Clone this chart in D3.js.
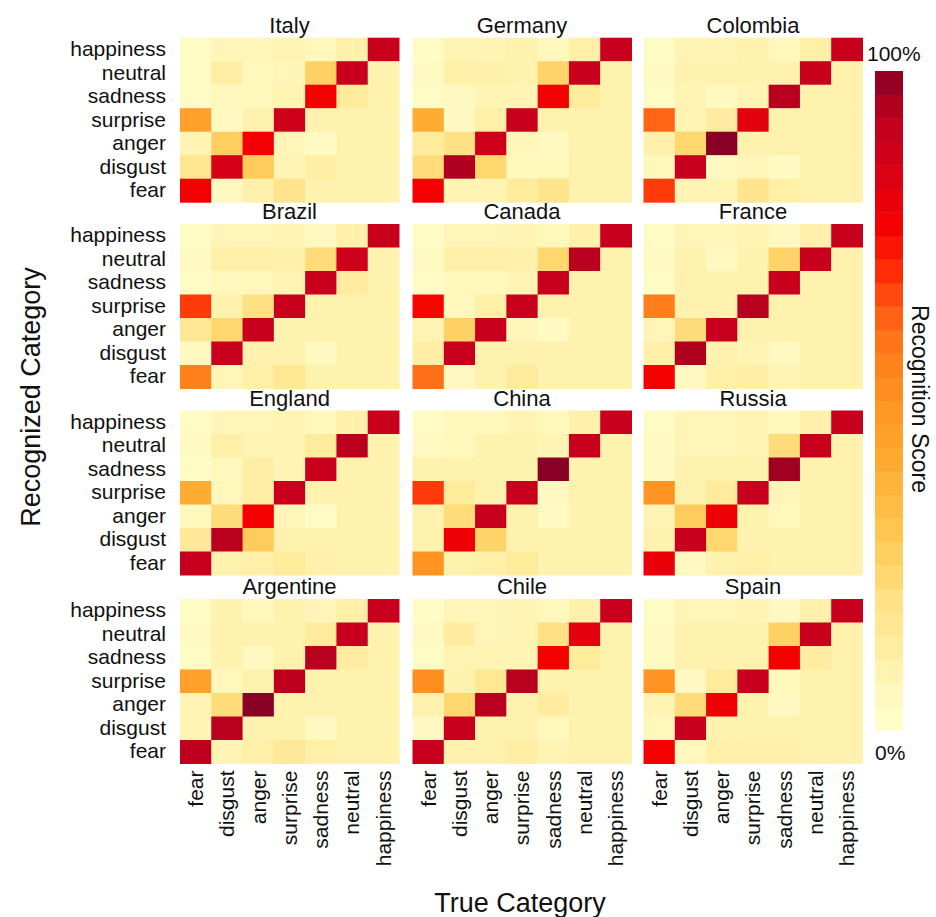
<!DOCTYPE html>
<html>
<head>
<meta charset="utf-8">
<script src="https://cdn.jsdelivr.net/npm/d3@7"></script>
<style>
  html, body { margin: 0; padding: 0; background: #fff; }
  svg { display: block; font-family: "Liberation Sans", Arial, Helvetica, sans-serif; }
</style>
</head>
<body>
<svg id="chart" width="936" height="917"></svg>
<script>
// Emotion categories (true category on x, recognized category on y)
const categories = ["fear", "disgust", "anger", "surprise", "sadness", "neutral", "happiness"];
const countries = ["Italy", "Germany", "Colombia", "Brazil", "Canada", "France",
                   "England", "China", "Russia", "Argentine", "Chile", "Spain"];

// Recognition score (%) per country. Rows: recognized category, listed top to bottom
// (happiness, neutral, sadness, surprise, anger, disgust, fear).
// Columns: true category (fear, disgust, anger, surprise, sadness, neutral, happiness).
const italy = [
  [3, 7, 7, 8, 6, 10, 90],
  [3, 12, 6, 7, 26, 90, 9],
  [3, 6, 6, 8, 76, 14, 9],
  [45, 5, 9, 88, 9, 9, 9],
  [8, 27, 77, 7, 4, 9, 9],
  [17, 86, 28, 8, 12, 9, 9],
  [76, 5, 10, 18, 9, 9, 9]
];
const germany = [
  [3, 8, 8, 9, 6, 11, 90],
  [4, 11, 10, 9, 25, 90, 9],
  [3, 5, 8, 8, 77, 14, 9],
  [40, 5, 11, 90, 9, 9, 9],
  [14, 20, 88, 7, 5, 9, 9],
  [22, 95, 24, 6, 6, 9, 9],
  [76, 8, 8, 14, 18, 9, 9]
];
const colombia = [
  [3, 8, 8, 9, 6, 11, 90],
  [4, 9, 9, 9, 9, 90, 9],
  [3, 8, 5, 8, 93, 9, 9],
  [62, 8, 13, 82, 9, 9, 9],
  [10, 24, 100, 9, 9, 9, 9],
  [6, 90, 5, 7, 4, 9, 9],
  [68, 8, 8, 18, 11, 9, 9]
];
const brazil = [
  [3, 7, 7, 8, 5, 10, 90],
  [4, 11, 11, 10, 22, 88, 9],
  [3, 6, 6, 8, 90, 13, 9],
  [68, 9, 20, 90, 9, 9, 9],
  [16, 24, 90, 9, 9, 9, 9],
  [5, 90, 9, 9, 5, 9, 9],
  [56, 7, 11, 16, 9, 9, 9]
];
const canada = [
  [3, 7, 7, 8, 6, 10, 90],
  [4, 11, 11, 10, 24, 93, 9],
  [3, 6, 6, 8, 90, 9, 9],
  [75, 6, 11, 90, 9, 9, 9],
  [8, 26, 90, 7, 4, 9, 9],
  [12, 90, 9, 9, 9, 9, 9],
  [60, 5, 9, 14, 9, 9, 9]
];
const france = [
  [3, 7, 7, 8, 5, 10, 90],
  [4, 9, 5, 9, 25, 90, 9],
  [3, 9, 9, 9, 90, 9, 9],
  [57, 9, 9, 93, 9, 9, 9],
  [7, 22, 90, 9, 9, 9, 9],
  [11, 95, 9, 8, 5, 9, 9],
  [76, 5, 11, 12, 8, 9, 9]
];
const england = [
  [3, 7, 7, 8, 6, 10, 90],
  [4, 11, 8, 8, 14, 93, 9],
  [3, 6, 12, 8, 90, 9, 9],
  [40, 6, 12, 90, 9, 9, 9],
  [6, 22, 76, 7, 3, 9, 9],
  [15, 93, 28, 9, 9, 9, 9],
  [90, 9, 11, 14, 10, 9, 9]
];
const china = [
  [3, 6, 6, 8, 6, 10, 90],
  [4, 6, 9, 9, 8, 90, 9],
  [9, 9, 9, 9, 100, 9, 9],
  [68, 14, 9, 90, 5, 9, 9],
  [9, 22, 90, 9, 4, 9, 9],
  [9, 78, 25, 9, 9, 9, 9],
  [50, 9, 11, 14, 9, 9, 9]
];
const russia = [
  [3, 7, 7, 8, 6, 10, 90],
  [4, 7, 7, 8, 22, 90, 9],
  [4, 9, 9, 9, 97, 9, 9],
  [50, 9, 14, 90, 7, 9, 9],
  [8, 28, 78, 9, 6, 9, 9],
  [9, 90, 24, 9, 9, 9, 9],
  [80, 5, 9, 11, 9, 9, 9]
];
const argentine = [
  [3, 9, 6, 9, 7, 11, 90],
  [4, 9, 9, 9, 14, 90, 9],
  [3, 9, 5, 9, 93, 13, 9],
  [45, 6, 9, 92, 9, 9, 9],
  [8, 22, 100, 9, 9, 9, 9],
  [8, 93, 9, 9, 5, 9, 9],
  [92, 8, 11, 15, 11, 9, 9]
];
const chile = [
  [3, 7, 7, 8, 6, 10, 90],
  [4, 13, 7, 8, 20, 82, 9],
  [3, 8, 8, 8, 76, 14, 9],
  [52, 9, 16, 93, 9, 9, 9],
  [9, 24, 93, 9, 13, 9, 9],
  [5, 90, 9, 9, 6, 9, 9],
  [90, 9, 9, 12, 8, 9, 9]
];
const spain = [
  [3, 7, 7, 8, 5, 10, 90],
  [4, 9, 9, 9, 26, 90, 9],
  [4, 9, 9, 9, 76, 13, 9],
  [50, 5, 14, 90, 6, 9, 9],
  [8, 22, 78, 9, 5, 9, 9],
  [6, 90, 9, 9, 9, 9, 9],
  [76, 6, 11, 11, 11, 9, 9]
];
const scores = [italy, germany, colombia, brazil, canada, france,
                england, china, russia, argentine, chile, spain];

// Colour bar labels
const legendLabels = ["0%", "100%"];
const legendSteps = 28;

// Recognition score -> colour (yellow through orange to dark red)
const colorStops = [0, 5, 10, 15, 20, 25, 30, 40, 50, 58, 64, 70, 76, 82, 90, 95, 100];
const colorRange = ["#ffffcc", "#fff8c0", "#fff1ab", "#ffe998", "#fee184", "#fed46a",
                    "#fec652", "#feac32", "#ff9422", "#ff7a1a", "#ff5a12", "#ff2a06",
                    "#f50000", "#e3000f", "#c8001e", "#b0001f", "#880025"];
const color = d3.scaleLinear().domain(colorStops).range(colorRange).clamp(true);

const svg = d3.select("#chart");

// Grid of small multiples
const colX = [180, 412.5, 643.5];
const rowY = [37.7, 224, 410.5, 599];
const panelW = 219, panelH = 164.5;
const fontTick = 21;

// recognized categories listed top to bottom
const rowOrder = categories.slice().reverse();

countries.forEach((name, i) => {
  const c = i % 3, r = Math.floor(i / 3);
  const x0 = colX[c], y0 = rowY[r];
  const x = d3.scaleBand().domain(categories).range([x0, x0 + panelW]);
  const y = d3.scaleBand().domain(rowOrder).range([y0, y0 + panelH]);
  const g = svg.append("g").attr("class", "panel");

  const cells = [];
  scores[i].forEach((row, ri) => {
    row.forEach((v, ci) => {
      cells.push({ rec: rowOrder[ri], tru: categories[ci], v });
    });
  });

  g.selectAll("rect")
    .data(cells)
    .join("rect")
    .attr("x", d => x(d.tru))
    .attr("y", d => y(d.rec))
    .attr("width", x.bandwidth() + 0.5)
    .attr("height", y.bandwidth() + 0.5)
    .attr("fill", d => color(d.v));

  g.append("text")
    .attr("x", x0 + panelW / 2)
    .attr("y", y0 - 5)
    .attr("text-anchor", "middle")
    .attr("font-size", 22)
    .attr("fill", "#111")
    .text(name);

  // Recognized-category labels on the left column
  if (c === 0) {
    const yAxis = d3.axisLeft(y).tickSize(0).tickPadding(14);
    const ga = svg.append("g").attr("transform", `translate(${x0},0)`).call(yAxis);
    ga.select(".domain").remove();
    ga.selectAll("text").attr("font-size", fontTick).attr("fill", "#111")
      .attr("font-family", "Liberation Sans, Arial, Helvetica, sans-serif");
  }

  // True-category labels under the bottom row
  if (r === 3) {
    const xAxis = d3.axisBottom(x).tickSize(0).tickPadding(0);
    const ga = svg.append("g").attr("transform", `translate(0,${y0 + panelH})`).call(xAxis);
    ga.select(".domain").remove();
    ga.selectAll("text")
      .attr("font-size", fontTick).attr("fill", "#111")
      .attr("font-family", "Liberation Sans, Arial, Helvetica, sans-serif")
      .attr("text-anchor", "end")
      .attr("transform", "rotate(-90)")
      .attr("x", -7).attr("y", 0).attr("dy", "0.35em");
  }
});

// Axis titles
svg.append("text")
  .attr("transform", "translate(40,397) rotate(-90)")
  .attr("text-anchor", "middle")
  .attr("font-size", 27)
  .attr("fill", "#111")
  .text("Recognized Category");

svg.append("text")
  .attr("x", 520).attr("y", 912)
  .attr("text-anchor", "middle")
  .attr("font-size", 27)
  .attr("fill", "#111")
  .text("True Category");

// Colour bar
const barX = 875, barW = 28;
const barScale = d3.scaleLinear().domain([0, 100]).range([730, 71]);
const stepVals = d3.range(legendSteps);
const stepH = (barScale(0) - barScale(100)) / legendSteps;
svg.append("g").selectAll("rect")
  .data(stepVals)
  .join("rect")
  .attr("x", barX)
  .attr("y", k => barScale((k + 1) * 100 / legendSteps))
  .attr("width", barW)
  .attr("height", stepH + 0.5)
  .attr("fill", k => color((k + 0.5) * 100 / legendSteps));

svg.append("text")
  .attr("x", 867).attr("y", 61)
  .attr("font-size", 21).attr("fill", "#111")
  .text(legendLabels[1]);
svg.append("text")
  .attr("x", 875).attr("y", 760)
  .attr("font-size", 21).attr("fill", "#111")
  .text(legendLabels[0]);

svg.append("text")
  .attr("transform", "translate(912,399) rotate(90)")
  .attr("text-anchor", "middle")
  .attr("font-size", 23)
  .attr("fill", "#111")
  .text("Recognition Score");
</script>
</body>
</html>
